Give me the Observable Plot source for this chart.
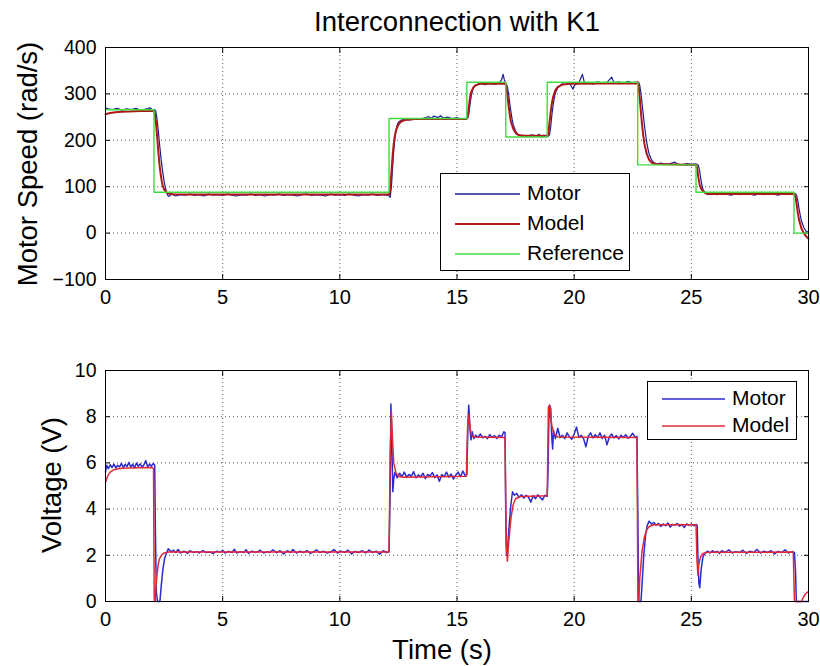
<!DOCTYPE html>
<html><head><meta charset="utf-8">
<script src="https://cdn.jsdelivr.net/npm/d3@7"></script>
<script src="https://cdn.jsdelivr.net/npm/@observablehq/plot@0.6"></script>
<style>
body{margin:0;background:#fff;}
#wrap{position:relative;width:820px;height:666px;background:#fff;font-family:"Liberation Sans",Arial,sans-serif;overflow:hidden;color:#000;}
.abs{position:absolute;white-space:nowrap;}
.legend{position:absolute;background:#fff;border:1.3px solid #000;box-sizing:border-box;}
.legend svg{position:absolute;left:0;top:0;}
.legend .tx{position:absolute;font-size:21px;line-height:24px;}
</style></head><body><div id="wrap"></div>
<script>
const xTicks=[0,5,10,15,20,25,30];
const speedTicks=[-100,0,100,200,300,400];
const voltTicks=[0,2,4,6,8,10];

const speedRef=[[0,266],[2.07,88],[12.1,247],[15.42,325],[17.08,207],[18.85,325],[22.71,147],[25.2,88],[29.38,0],[30,0]];

const speedModel=[[0,256],[0.2,259],[0.5,261],[1.0,262],[1.5,263],[2.05,263],[2.1,258],[2.15,240],[2.2,210],[2.25,178],[2.3,150],[2.35,128],[2.4,112],[2.45,101],[2.5,94],[2.6,88],[2.7,85],[2.9,83.5],[3.5,83],[12.1,83],[12.15,95],[12.2,130],[12.25,165],[12.3,192],[12.35,210],[12.4,222],[12.5,234],[12.6,240],[12.8,244],[13.2,246],[15.4,246],[15.45,250],[15.5,270],[15.55,290],[15.6,303],[15.7,314],[15.8,319],[16.0,322],[17.05,322],[17.1,318],[17.15,298],[17.2,275],[17.25,256],[17.3,240],[17.4,225],[17.5,216],[17.6,212],[17.8,210],[18.85,210],[18.9,215],[18.95,240],[19.0,262],[19.05,280],[19.1,293],[19.2,308],[19.3,315],[19.5,320],[19.8,322],[22.7,323],[22.75,318],[22.8,290],[22.85,260],[22.9,232],[22.95,210],[23.0,192],[23.1,170],[23.2,158],[23.3,152],[23.5,149],[25.2,147],[25.25,140],[25.3,120],[25.35,106],[25.4,97],[25.5,90],[25.6,86],[25.8,84],[29.38,84],[29.45,78],[29.5,60],[29.55,42],[29.6,28],[29.7,10],[29.8,0],[29.9,-7],[30,-12]];

const speedMotor=[[0,270],[0.1,268],[0.3,266],[0.5,269],[0.7,265],[0.9,268],[1.1,266],[1.3,269],[1.5,265],[1.7,267],[1.9,270],[2.0,266],[2.1,266],[2.15,262],[2.2,245],[2.25,222],[2.3,195],[2.35,170],[2.4,148],[2.45,128],[2.5,112],[2.55,99],[2.6,89],[2.65,82],[2.7,79],[2.75,80],[2.8,84],[2.9,82],[3.0,80],[3.2,83],[3.4,82],[3.6,84],[3.8,81],[4.0,83],[4.2,80],[4.4,84],[4.6,82],[4.8,83],[5.0,81],[5.2,84],[5.4,82],[5.6,80],[5.8,83],[6.0,82],[6.2,84],[6.4,81],[6.6,83],[6.8,80],[7.0,83],[7.2,82],[7.4,84],[7.6,81],[7.8,83],[8.0,82],[8.2,80],[8.4,83],[8.6,84],[8.8,81],[9.0,83],[9.2,82],[9.4,80],[9.6,84],[9.8,82],[10.0,83],[10.2,81],[10.4,84],[10.6,82],[10.8,80],[11.0,83],[11.2,82],[11.4,84],[11.6,81],[11.8,83],[12.0,82],[12.1,80],[12.15,77],[12.2,100],[12.25,140],[12.3,178],[12.35,205],[12.4,222],[12.45,233],[12.5,239],[12.6,243],[12.8,246],[13.0,244],[13.2,247],[13.4,245],[13.6,248],[13.8,251],[13.9,247],[14.0,252],[14.2,249],[14.3,253],[14.4,248],[14.6,250],[14.8,247],[15.0,249],[15.2,245],[15.4,247],[15.45,248],[15.5,255],[15.55,275],[15.6,293],[15.65,305],[15.7,313],[15.8,318],[15.9,321],[16.0,323],[16.2,320],[16.4,323],[16.6,321],[16.8,324],[16.9,330],[16.97,342],[17.02,330],[17.1,322],[17.15,315],[17.2,300],[17.25,280],[17.3,262],[17.35,246],[17.4,233],[17.5,220],[17.6,213],[17.7,209],[17.8,211],[18.0,208],[18.2,212],[18.4,209],[18.5,213],[18.6,207],[18.8,210],[18.9,209],[18.95,212],[19.0,230],[19.05,255],[19.1,275],[19.15,291],[19.2,302],[19.3,313],[19.4,318],[19.5,322],[19.6,320],[19.8,323],[19.95,310],[20.0,318],[20.2,324],[20.35,342],[20.45,322],[20.6,325],[20.8,321],[21.0,326],[21.2,323],[21.4,325],[21.6,336],[21.7,324],[21.9,326],[22.1,323],[22.3,327],[22.5,324],[22.7,326],[22.75,325],[22.8,318],[22.85,300],[22.9,278],[22.95,255],[23.0,232],[23.05,212],[23.1,195],[23.15,181],[23.2,170],[23.3,158],[23.4,152],[23.5,149],[23.7,151],[23.9,148],[24.1,150],[24.3,153],[24.4,149],[24.6,147],[24.8,150],[25.0,148],[25.2,149],[25.3,146],[25.35,135],[25.4,118],[25.45,104],[25.5,94],[25.6,87],[25.7,83],[25.9,85],[26.1,83],[26.3,86],[26.5,84],[26.7,82],[26.9,85],[27.1,83],[27.3,86],[27.5,84],[27.7,82],[27.9,85],[28.1,83],[28.3,86],[28.5,84],[28.7,82],[28.9,85],[29.1,84],[29.3,86],[29.45,85],[29.5,80],[29.55,68],[29.6,52],[29.65,38],[29.7,26],[29.8,12],[29.9,4],[30,2]];

const voltModel=[[0,5.15],[0.1,5.45],[0.2,5.6],[0.35,5.7],[0.6,5.76],[1.0,5.78],[2.0,5.8],[2.05,5.75],[2.08,0],[2.12,0],[2.15,0.6],[2.2,1.2],[2.25,1.6],[2.3,1.85],[2.4,2.02],[2.5,2.1],[2.7,2.14],[12.1,2.14],[12.15,6.5],[12.2,8.2],[12.25,7.0],[12.3,6.0],[12.4,5.55],[12.5,5.42],[12.7,5.38],[15.4,5.42],[15.45,7.5],[15.5,8.1],[15.55,7.6],[15.6,7.25],[15.7,7.12],[17.05,7.1],[17.1,2.5],[17.15,1.75],[17.2,2.5],[17.3,3.6],[17.4,4.2],[17.5,4.45],[17.7,4.55],[18.85,4.58],[18.9,8.4],[18.95,8.5],[19.0,8.0],[19.05,7.6],[19.15,7.25],[19.3,7.12],[22.68,7.1],[22.72,0],[22.76,0],[22.8,1.0],[22.9,2.2],[23.0,2.8],[23.1,3.1],[23.2,3.25],[23.4,3.32],[25.2,3.32],[25.24,1.8],[25.28,1.15],[25.32,1.6],[25.4,1.95],[25.5,2.08],[25.7,2.13],[29.35,2.14],[29.4,0],[29.7,0],[29.75,0.12],[29.85,0.3],[29.95,0.4],[30,0.42]];

const voltMotor=[[0,5.6],[0.05,5.9],[0.12,5.75],[0.2,5.92],[0.28,5.8],[0.36,5.95],[0.44,5.78],[0.52,5.9],[0.6,5.82],[0.68,5.98],[0.76,5.8],[0.84,5.93],[0.92,5.85],[1.0,6.02],[1.08,5.82],[1.16,5.95],[1.24,5.78],[1.32,6.0],[1.4,5.85],[1.48,5.96],[1.56,5.8],[1.64,5.92],[1.72,6.1],[1.8,5.82],[1.88,5.95],[1.96,5.86],[2.04,5.98],[2.1,5.9],[2.13,3.0],[2.17,0.4],[2.22,0],[2.32,0],[2.38,0.7],[2.45,1.4],[2.52,1.85],[2.6,2.1],[2.68,2.28],[2.8,2.15],[2.9,2.22],[3.0,2.12],[3.1,2.25],[3.2,2.1],[3.35,2.18],[3.5,2.08],[3.6,2.2],[3.75,2.12],[3.9,2.16],[4.0,2.1],[4.15,2.2],[4.3,2.12],[4.45,2.14],[4.6,2.08],[4.75,2.18],[4.9,2.13],[5.0,2.22],[5.1,2.1],[5.25,2.17],[5.4,2.12],[5.5,2.26],[5.6,2.1],[5.75,2.16],[5.9,2.12],[6.0,2.24],[6.1,2.08],[6.25,2.18],[6.4,2.13],[6.5,2.15],[6.6,2.22],[6.75,2.1],[6.9,2.16],[7.0,2.12],[7.15,2.24],[7.3,2.11],[7.45,2.2],[7.6,2.06],[7.75,2.2],[7.9,2.12],[8.0,2.25],[8.15,2.1],[8.3,2.18],[8.45,2.12],[8.6,2.2],[8.75,2.08],[8.9,2.16],[9.0,2.24],[9.15,2.12],[9.3,2.18],[9.45,2.1],[9.6,2.14],[9.75,2.25],[9.9,2.1],[10.05,2.18],[10.2,2.13],[10.35,2.22],[10.5,2.06],[10.65,2.17],[10.8,2.12],[10.95,2.2],[11.1,2.1],[11.25,2.23],[11.4,2.12],[11.55,2.18],[11.7,2.05],[11.85,2.2],[12.0,2.12],[12.1,2.15],[12.15,5.0],[12.18,8.55],[12.22,6.8],[12.26,4.75],[12.3,5.3],[12.35,5.6],[12.45,5.35],[12.55,5.55],[12.65,5.4],[12.75,5.6],[12.85,5.38],[12.95,5.5],[13.05,5.42],[13.15,5.62],[13.25,5.36],[13.35,5.48],[13.45,5.4],[13.55,5.55],[13.65,5.32],[13.75,5.5],[13.85,5.44],[13.95,5.58],[14.05,5.36],[14.15,5.48],[14.25,5.2],[14.35,5.5],[14.45,5.4],[14.55,5.6],[14.65,5.38],[14.75,5.52],[14.85,5.3],[14.95,5.48],[15.05,5.6],[15.15,5.4],[15.25,5.65],[15.35,5.44],[15.42,5.5],[15.47,7.8],[15.5,8.5],[15.53,8.0],[15.56,7.4],[15.6,7.0],[15.65,7.35],[15.72,7.05],[15.8,7.2],[15.9,7.1],[16.0,7.25],[16.1,7.08],[16.2,7.15],[16.3,7.05],[16.4,7.22],[16.5,7.1],[16.6,7.18],[16.7,7.06],[16.8,7.2],[16.9,7.12],[17.0,7.35],[17.05,7.3],[17.08,3.8],[17.11,2.0],[17.15,2.2],[17.22,3.2],[17.3,4.2],[17.37,4.75],[17.45,4.6],[17.55,4.68],[17.65,4.5],[17.75,4.62],[17.85,4.48],[17.95,4.6],[18.05,4.52],[18.15,4.3],[18.25,4.58],[18.35,4.45],[18.45,4.62],[18.55,4.5],[18.65,4.4],[18.75,4.6],[18.85,4.55],[18.88,5.5],[18.92,7.8],[18.95,8.5],[19.0,8.35],[19.04,7.2],[19.08,6.6],[19.12,7.4],[19.2,7.05],[19.3,7.5],[19.4,7.1],[19.5,7.2],[19.6,7.05],[19.7,7.3],[19.8,7.12],[19.9,7.02],[20.0,7.25],[20.1,7.55],[20.2,7.1],[20.3,7.2],[20.4,7.05],[20.5,6.7],[20.6,7.15],[20.7,7.3],[20.8,7.08],[20.9,7.22],[21.0,7.1],[21.1,7.3],[21.2,7.05],[21.3,7.2],[21.4,6.78],[21.5,7.12],[21.6,7.25],[21.7,7.08],[21.8,7.18],[21.9,7.04],[22.0,7.2],[22.1,7.1],[22.2,7.22],[22.3,7.06],[22.4,7.15],[22.5,7.28],[22.6,7.1],[22.68,7.15],[22.72,3.5],[22.75,0],[22.85,0],[22.9,0.8],[22.97,2.0],[23.05,2.9],[23.12,3.3],[23.2,3.48],[23.3,3.35],[23.4,3.42],[23.5,3.3],[23.6,3.38],[23.7,3.25],[23.8,3.36],[23.9,3.28],[24.0,3.4],[24.1,3.22],[24.2,3.34],[24.3,3.3],[24.4,3.38],[24.5,3.26],[24.6,3.34],[24.7,3.2],[24.8,3.36],[24.9,3.3],[25.0,3.35],[25.1,3.28],[25.2,3.34],[25.25,3.3],[25.28,2.0],[25.32,0.8],[25.36,0.6],[25.42,1.4],[25.5,1.95],[25.6,2.12],[25.7,2.18],[25.8,2.1],[25.9,2.2],[26.0,2.12],[26.1,2.17],[26.2,2.08],[26.3,2.2],[26.45,2.12],[26.6,2.24],[26.75,2.1],[26.9,2.16],[27.05,2.12],[27.2,2.22],[27.35,2.08],[27.5,2.18],[27.65,2.12],[27.8,2.25],[27.95,2.1],[28.1,2.18],[28.25,2.12],[28.4,2.2],[28.55,2.06],[28.7,2.17],[28.85,2.12],[29.0,2.24],[29.15,2.1],[29.3,2.16],[29.4,2.12],[29.45,1.2],[29.48,0],[30,0]];

const titleText="Interconnection with K1";
const speedLabel="Motor Speed (rad/s)";
const voltLabel="Voltage (V)";
const timeLabel="Time (s)";
const speedLegend=[{name:"Motor",color:"#1e1e94",w:1.2},{name:"Model",color:"#b01818",w:2},{name:"Reference",color:"#40dc40",w:1.4}];
const voltLegend=[{name:"Motor",color:"#2a2ad0",w:1.5},{name:"Model",color:"#e02838",w:1.5}];

const font='"Liberation Sans", Arial, sans-serif';
const gridStyle={stroke:"#000",strokeOpacity:0.65,strokeDasharray:"1,3",strokeWidth:1};

function axesMarks(yTicks){
  return [
    Plot.gridX(xTicks.slice(1,-1),gridStyle),
    Plot.gridY(yTicks.slice(1,-1),gridStyle),
    Plot.axisX(xTicks,{anchor:"bottom",tickSize:0,tickPadding:10,label:null,fontSize:20}),
    Plot.axisY(yTicks,{anchor:"left",tickSize:0,tickPadding:9,label:null,fontSize:19.5}),
    Plot.axisX(xTicks,{anchor:"bottom",tickSize:-5,tickFormat:()=>"",label:null}),
    Plot.axisX(xTicks,{anchor:"top",tickSize:-5,tickFormat:()=>"",label:null}),
    Plot.axisY(yTicks,{anchor:"left",tickSize:-5,tickFormat:()=>"",label:null}),
    Plot.axisY(yTicks,{anchor:"right",tickSize:-5,tickFormat:()=>"",label:null})
  ];
}
const L=(data,color,w)=>Plot.line(data,{x:d=>d[0],y:d=>d[1],stroke:color,strokeWidth:w});

const topPlot=Plot.plot({
  width:820,height:320,marginLeft:105,marginRight:12,marginTop:47,marginBottom:41,
  x:{domain:[0,30]},y:{domain:[-100,400]},
  style:{fontFamily:font,fontSize:"19px",color:"#000",background:"transparent",overflow:"visible"},
  marks:[
    ...axesMarks(speedTicks),
    L(speedMotor,speedLegend[0].color,speedLegend[0].w),
    L(speedModel,speedLegend[1].color,speedLegend[1].w),
    Plot.line(speedRef,{x:d=>d[0],y:d=>d[1],stroke:speedLegend[2].color,strokeWidth:speedLegend[2].w,curve:"step-after"}),
    Plot.frame({stroke:"#000",strokeWidth:1})
  ]
});
const botPlot=Plot.plot({
  width:820,height:320,marginLeft:105,marginRight:12,marginTop:50,marginBottom:39,
  x:{domain:[0,30]},y:{domain:[0,10]},
  style:{fontFamily:font,fontSize:"19px",color:"#000",background:"transparent",overflow:"visible"},
  marks:[
    ...axesMarks(voltTicks),
    L(voltMotor,voltLegend[0].color,voltLegend[0].w),
    L(voltModel,voltLegend[1].color,voltLegend[1].w),
    Plot.frame({stroke:"#000",strokeWidth:1})
  ]
});

const wrap=document.getElementById("wrap");
topPlot.style.position="absolute";topPlot.style.left="0px";topPlot.style.top="0px";
botPlot.style.position="absolute";botPlot.style.left="0px";botPlot.style.top="320px";
wrap.appendChild(topPlot);wrap.appendChild(botPlot);

function addText(txt,cx,cy,size,rot){
  const d=document.createElement("div");
  d.className="abs";d.textContent=txt;
  d.style.fontSize=size+"px";d.style.lineHeight="1";
  d.style.left=cx+"px";d.style.top=cy+"px";
  d.style.transform="translate(-50%,-50%)"+(rot?" rotate(-90deg)":"");
  wrap.appendChild(d);
}
addText(titleText,457,22,27.5,false);
addText(speedLabel,28,164,27.5,true);
addText(voltLabel,52,485,27.5,true);
addText(timeLabel,442,650,27.5,false);

const SVGNS="http://www.w3.org/2000/svg";
function addLegend(items,left,top,w,h,rows,lineX,lineW,textX){
  const b=document.createElement("div");
  b.className="legend";
  b.style.left=left+"px";b.style.top=top+"px";b.style.width=w+"px";b.style.height=h+"px";
  const s=document.createElementNS(SVGNS,"svg");
  s.setAttribute("width",w);s.setAttribute("height",h);
  items.forEach((it,i)=>{
    const ln=document.createElementNS(SVGNS,"line");
    ln.setAttribute("x1",lineX);ln.setAttribute("x2",lineX+lineW);
    ln.setAttribute("y1",rows[i]);ln.setAttribute("y2",rows[i]);
    ln.setAttribute("stroke",it.color);ln.setAttribute("stroke-width",Math.max(it.w,1.6));
    s.appendChild(ln);
    const t=document.createElement("div");t.className="tx";t.textContent=it.name;
    t.style.left=textX+"px";t.style.top=(rows[i]-13)+"px";
    b.appendChild(t);
  });
  b.appendChild(s);
  wrap.appendChild(b);
}
addLegend(speedLegend,440,173,190,98,[20,50,80],14,65,86);
addLegend(voltLegend,647,381,150,59,[17,44],14,63,84);
</script></body></html>
